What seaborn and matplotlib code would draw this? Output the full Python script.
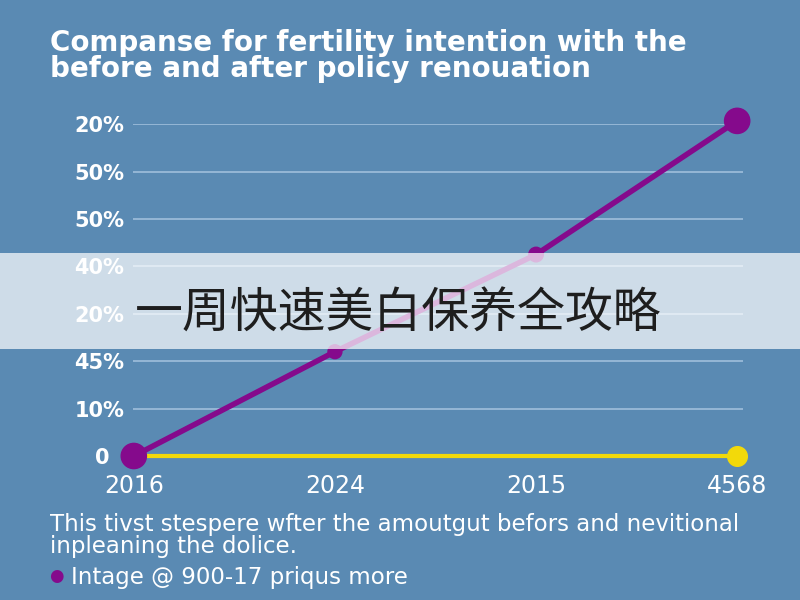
import matplotlib
matplotlib.use('Agg')
import matplotlib.pyplot as plt
import seaborn as sns
import pandas as pd

# chart data
years = ['2016', '2024', '2015', '4568']
y_tick_labels = ['0', '10%', '45%', '20%', '40%', '50%', '50%', '20%']
after_policy = [0.0, 2.2, 4.25, 7.07]
before_policy = [0.0, 0.0, 0.0, 0.0]

title = 'Companse for fertility intention with the\nbefore and after policy renouation'
note = 'This tivst stespere wfter the amoutgut befors and nevitional\ninpleaning the dolice.'
legend_text = 'Intage @ 900-17 priqus more'
banner_text = '一周快速美白保养全攻略'

BG = '#5a8ab3'
PURPLE = '#850a8c'
YELLOW = '#f2d90a'

sns.set_theme(style='white')
plt.rcParams['font.family'] = ['DejaVu Sans']

df = pd.DataFrame({'pos': range(len(years)), 'after': after_policy, 'before': before_policy})

fig = plt.figure(figsize=(8, 6), dpi=100, facecolor=BG)
ax = fig.add_axes([0.166, 0.24, 0.763, 0.553])
ax.set_facecolor(BG)

sns.lineplot(data=df, x='pos', y='before', color=YELLOW, lw=3, ax=ax, clip_on=False, zorder=3)
sns.lineplot(data=df, x='pos', y='after', color=PURPLE, lw=4, ax=ax, clip_on=False, zorder=4)
ax.scatter(df['pos'].iloc[-1:], df['before'].iloc[-1:], s=200, color=YELLOW, zorder=5, clip_on=False)
ax.scatter(df['pos'], df['after'], s=[330, 100, 110, 330], color=PURPLE, zorder=6, clip_on=False)

ax.set_xlim(-0.005, 3.03)
ax.set_ylim(0, 7)
ax.set_yticks(range(len(y_tick_labels)))
# the "0" sits left of the first marker in the reference, hence the padding
ax.set_yticklabels([t if i else t + '  ' for i, t in enumerate(y_tick_labels)],
                   color='white', fontsize=15, fontweight='bold')
ax.set_xticks(range(len(years)))
ax.set_xticklabels(years, color='white', fontsize=17)
ax.tick_params(axis='y', length=0, pad=6)
ax.tick_params(axis='x', length=7, width=1, color='#a9c4dc', pad=6, direction='out')
ax.grid(axis='y', color='#9fbedb', lw=1.2)
ax.set_axisbelow(True)
for s in ax.spines.values():
    s.set_visible(False)
ax.set_xlabel('')
ax.set_ylabel('')

fig.text(0.063, 0.952, title, color='white', fontsize=20, fontweight='bold',
         va='top', ha='left', linespacing=0.93)
fig.text(0.063, 0.107, note, color='white', fontsize=16.5, va='center', ha='left', linespacing=0.95)
fig.text(0.061, 0.040, '●', color=PURPLE, fontsize=12, va='center', ha='left')
fig.text(0.089, 0.038, legend_text, color='white', fontsize=16.5, va='center', ha='left')

# semi-transparent banner over the chart
fig.patches.append(plt.Rectangle((0, 0.418), 1, 0.161, transform=fig.transFigure,
                                 color='white', alpha=0.71, lw=0, zorder=10))
fig.text(0.168, 0.476, banner_text, color='#1e1e1e', fontsize=34.5, va='center', ha='left',
         family=['Noto Sans CJK SC', 'DejaVu Sans'], zorder=11)

fig.savefig('out.png', dpi=100, facecolor=BG)
